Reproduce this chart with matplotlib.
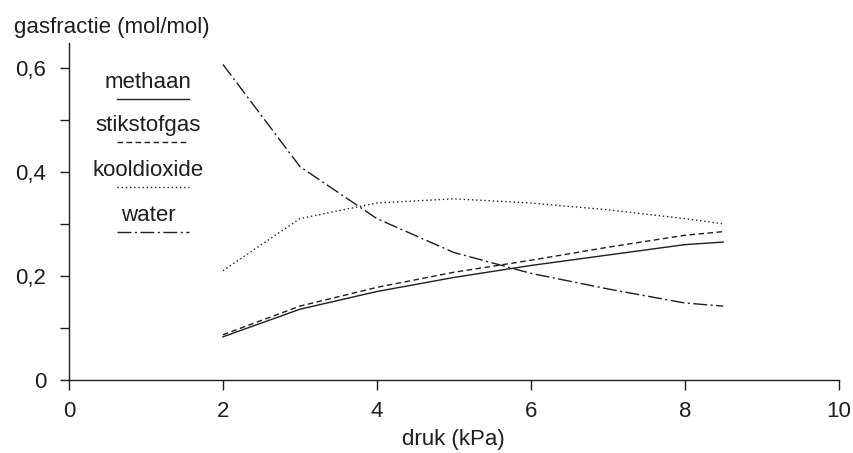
import matplotlib
matplotlib.use("Agg")
import matplotlib.pyplot as plt

plt.rcParams['font.family'] = ['Liberation Sans', 'DejaVu Sans']

druk = [2, 3, 4, 5, 6, 7, 8, 8.5]
methaan = [0.083, 0.136, 0.170, 0.197, 0.220, 0.240, 0.260, 0.265]
stikstofgas = [0.087, 0.142, 0.178, 0.207, 0.230, 0.255, 0.278, 0.285]
kooldioxide = [0.210, 0.310, 0.340, 0.348, 0.340, 0.327, 0.310, 0.300]
water = [0.606, 0.410, 0.310, 0.245, 0.205, 0.175, 0.148, 0.142]

series = [
    ('methaan', methaan, '-'),
    ('stikstofgas', stikstofgas, (0, (4, 2.5))),
    ('kooldioxide', kooldioxide, (0, (1, 2))),
    ('water', water, (0, (10, 2.5, 1.5, 2.5))),
]

ink = '#1e1e1e'
fs = 16

fig = plt.figure(figsize=(8.54, 4.53), dpi=100)
ax = fig.add_axes([0.0808, 0.161, 0.9012, 0.745])

for name, vals, ls in series:
    ax.plot(druk, vals, color=ink, lw=1.0, linestyle=ls)

ax.set_xlim(0, 10)
ax.set_ylim(0, 0.648)
ax.set_xticks([0, 2, 4, 6, 8, 10])
ax.set_xticklabels(['0', '2', '4', '6', '8', '10'])
ax.set_yticks([0, 0.2, 0.4, 0.6])
ax.set_yticklabels(['0', '0,2', '0,4', '0,6'])
ax.set_yticks([0.1, 0.3, 0.5], minor=True)
ax.tick_params(axis='both', labelsize=fs, colors=ink, width=1.0)
ax.tick_params(axis='x', which='major', length=7, pad=8)
ax.tick_params(axis='y', which='major', length=6.5, pad=10)
ax.tick_params(axis='y', which='minor', length=6.5, width=1.0, color=ink)
for s in ['top', 'right']:
    ax.spines[s].set_visible(False)
for s in ['left', 'bottom']:
    ax.spines[s].set_color(ink)
    ax.spines[s].set_linewidth(1.0)

# stacked legend: label with a line sample underneath
leg_y = [0.540, 0.458, 0.371, 0.285]
for (name, vals, ls), yy in zip(series, leg_y):
    ax.text(1.03, yy + 0.031, name, ha='center', va='center', fontsize=fs,
            color=ink)
    ax.plot([0.62, 1.56], [yy, yy], color=ink, lw=1.0, linestyle=ls)

fig.text(0.016, 0.94, 'gasfractie (mol/mol)', ha='left', va='center',
         fontsize=fs, color=ink)
ax.set_xlabel('druk (kPa)', fontsize=fs, color=ink, labelpad=5)

fig.savefig('out.png', dpi=100)
